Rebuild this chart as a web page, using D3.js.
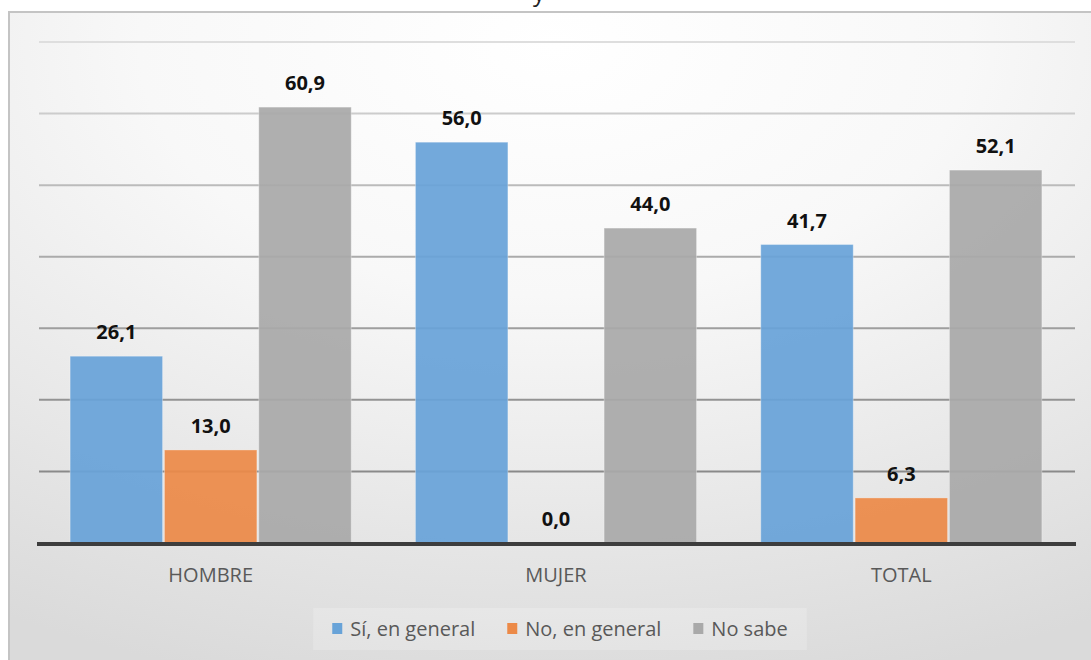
<!DOCTYPE html>
<html>
<head>
<meta charset="utf-8">
<script src="https://cdn.jsdelivr.net/npm/d3@7"></script>
<style>
  html, body { margin: 0; padding: 0; background: #ffffff; }
  svg { display: block; }
</style>
</head>
<body>
<svg id="chart" width="1091" height="660"></svg>
<script>
// Categories, series and values
const categories = ["HOMBRE", "MUJER", "TOTAL"];
const seriesNames = ["Sí, en general", "No, en general", "No sabe"];
const siGeneral = [26.1, 56.0, 41.7];
const noGeneral = [13.0, 0.0, 6.3];
const noSabe = [60.9, 44.0, 52.1];
const gridTicks = [0, 10, 20, 30, 40, 50, 60, 70];
const titleText = "y";

const seriesValues = [siGeneral, noGeneral, noSabe];
const colors = ["#68a3d8", "#ec8a48", "#a9a9a9"];

const svg = d3.select("#chart");
const W = 1091, H = 660;

// Background panel with soft radial shading
const defs = svg.append("defs");
const rg = defs.append("radialGradient")
  .attr("id", "panelGrad")
  .attr("cx", "50%").attr("cy", "5%").attr("r", "100%");
rg.append("stop").attr("offset", "0").attr("stop-color", "#ffffff");
rg.append("stop").attr("offset", "0.38").attr("stop-color", "#f8f8f8");
rg.append("stop").attr("offset", "1").attr("stop-color", "#dadada");

svg.append("rect")
  .attr("x", 9).attr("y", 12)
  .attr("width", W).attr("height", H)
  .attr("fill", "url(#panelGrad)")
  .attr("stroke", "#c4c4c4").attr("stroke-width", 2);

// Title (its top lies above the panel edge)
svg.append("text")
  .attr("x", 539).attr("y", 1)
  .attr("text-anchor", "middle")
  .attr("font-family", "'Open Sans', sans-serif")
  .attr("font-size", 24)
  .attr("fill", "#222")
  .text(titleText);

// Scales
const y = d3.scaleLinear().domain([0, 70]).range([543, 42]);
const x0 = d3.scaleBand().domain(categories).range([38, 1074])
  .paddingInner(0.186).paddingOuter(0.093);
const x1 = d3.scaleBand().domain(seriesNames).range([0, x0.bandwidth()])
  .paddingInner(0.02);

// Gridlines
const gridColor = d3.interpolateRgb("#858585", "#dedede");
svg.append("g").selectAll("line")
  .data(gridTicks.filter(d => d > 0))
  .join("line")
  .attr("x1", 39).attr("x2", 1075)
  .attr("y1", d => y(d)).attr("y2", d => y(d))
  .attr("stroke", d => gridColor(Math.pow(d / 70, 1.5)))
  .attr("stroke-width", 2);

// Bars
const groups = svg.append("g").selectAll("g")
  .data(categories)
  .join("g")
  .attr("transform", c => `translate(${x0(c)},0)`);

groups.selectAll("rect")
  .data((c, ci) => seriesNames.map((s, si) => ({ s, si, v: seriesValues[si][ci] })))
  .join("rect")
  .attr("x", d => x1(d.s))
  .attr("y", d => y(d.v))
  .attr("width", x1.bandwidth())
  .attr("height", d => y(0) - y(d.v))
  .attr("fill", d => colors[d.si])
  .attr("fill-opacity", 0.93)
  .attr("stroke", "#ffffff").attr("stroke-opacity", 0.3).attr("stroke-width", 1);

// Value labels
groups.selectAll("text")
  .data((c, ci) => seriesNames.map((s, si) => ({ s, si, v: seriesValues[si][ci] })))
  .join("text")
  .attr("x", d => x1(d.s) + x1.bandwidth() / 2)
  .attr("y", d => y(d.v) - 17)
  .attr("text-anchor", "middle")
  .attr("font-family", "'Open Sans', sans-serif")
  .attr("font-weight", "bold")
  .attr("font-size", 20)
  .attr("fill", "#111")
  .text(d => d.v.toFixed(1).replace(".", ","));

// Baseline
svg.append("line")
  .attr("x1", 37).attr("x2", 1076)
  .attr("y1", y(0) + 1).attr("y2", y(0) + 1)
  .attr("stroke", "#3d3d3d").attr("stroke-width", 4);

// Category axis
const xAxis = svg.append("g")
  .attr("transform", `translate(0,${y(0)})`)
  .call(d3.axisBottom(x0).tickSize(0).tickPadding(25));
xAxis.select(".domain").remove();
xAxis.selectAll("text")
  .attr("font-family", "'Open Sans', sans-serif")
  .attr("font-size", 20)
  .attr("fill", "#595959");

// Legend
const legendBox = svg.append("rect")
  .attr("y", 608).attr("height", 42)
  .attr("fill", "#ffffff").attr("fill-opacity", 0.2);
const legend = svg.append("g");
let lx = 0;
seriesNames.forEach((name, i) => {
  const item = legend.append("g").attr("transform", `translate(${lx},0)`);
  item.append("rect")
    .attr("x", 0).attr("y", 623).attr("width", 10).attr("height", 11)
    .attr("fill", colors[i]);
  const t = item.append("text")
    .attr("x", 18).attr("y", 636)
    .attr("font-family", "'Open Sans', sans-serif")
    .attr("font-size", 20)
    .attr("fill", "#595959")
    .text(name);
  lx += 18 + t.node().getComputedTextLength() + 32;
});
const legendW = lx - 32;
const legendX = 560 - legendW / 2;
legend.attr("transform", `translate(${legendX},0)`);
legendBox.attr("x", legendX - 19).attr("width", legendW + 38);
</script>
</body>
</html>
